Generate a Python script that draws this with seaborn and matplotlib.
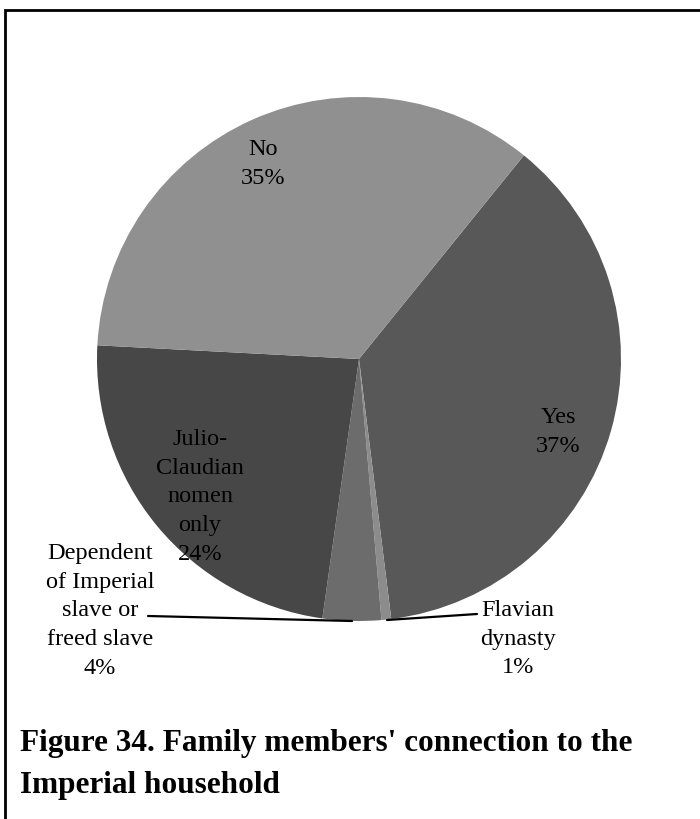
import matplotlib.pyplot as plt
import seaborn as sns
from matplotlib.patches import Rectangle
from matplotlib.transforms import Bbox

# ── Data ─────────────────────────────────────────────────────
categories = ["Yes", "Flavian\ndynasty", "Dependent\nof Imperial\nslave or\nfreed slave",
              "Julio-\nClaudian\nnomen\nonly", "No"]
shares = [37.2, 0.6, 3.6, 23.6, 35.0]
colors = ["#585858", "#8c8c8c", "#6c6c6c", "#474747", "#909090"]
caption = ["Figure 34. Family members' connection to the", "Imperial household"]

# label centres in pixels (x, y from top) and which ones get a leader line
label_px = [(558, 432), (518, 639), (100, 611), (200, 497), (263, 164)]
leader_px = {1: [(387, 621), (477, 615)], 2: [(148, 617), (352, 622)]}

W, H = 700, 820
cx, cy, r = 359, 360, 262

sns.set_theme(style="white")
plt.rcParams['font.family'] = ['Liberation Serif', 'DejaVu Serif']

fig = plt.figure(figsize=(W / 100, H / 100), dpi=100)
ax = fig.add_axes([(cx - r) / W, 1 - (cy + r) / H, 2 * r / W, 2 * r / H])
ax.pie(shares, colors=colors, startangle=51, counterclock=False,
       wedgeprops=dict(linewidth=0))
ax.set_xlim(-1, 1)
ax.set_ylim(-1, 1)
ax.set_aspect('equal')
ax.axis('off')


def to_data(px, py):
    return (px - cx) / r, (cy - py) / r


# the chart area cuts the bottom of the lowest label in the original
chart_clip = Bbox.from_extents(0, H - 676, W, H)

total = sum(shares)
for i, (name, val) in enumerate(zip(categories, shares)):
    x, y = to_data(*label_px[i])
    t = ax.text(x, y, f"{name}\n{round(val / total * 100)}%", ha='center', va='center',
                fontsize=17.5, linespacing=1.48, color='black')
    t.set_clip_box(chart_clip)
    t.set_clip_on(True)
    if i in leader_px:
        (x0, y0), (x1, y1) = [to_data(*p) for p in leader_px[i]]
        ax.plot([x0, x1], [y0, y1], color='black', lw=1.6, clip_on=False)

# outer frame (runs off the right and bottom edge)
fig.patches.append(Rectangle((5 / W, -0.01), 1.0, 1 - 11 / H + 0.01,
                             transform=fig.transFigure, fill=False,
                             edgecolor='black', linewidth=2))

for line, base in zip(caption, [751, 793]):
    fig.text(20 / W, 1 - base / H, line, ha='left', va='baseline',
             fontsize=22.5, fontweight='bold', color='black')

fig.savefig("out.png", dpi=100, facecolor='white')
